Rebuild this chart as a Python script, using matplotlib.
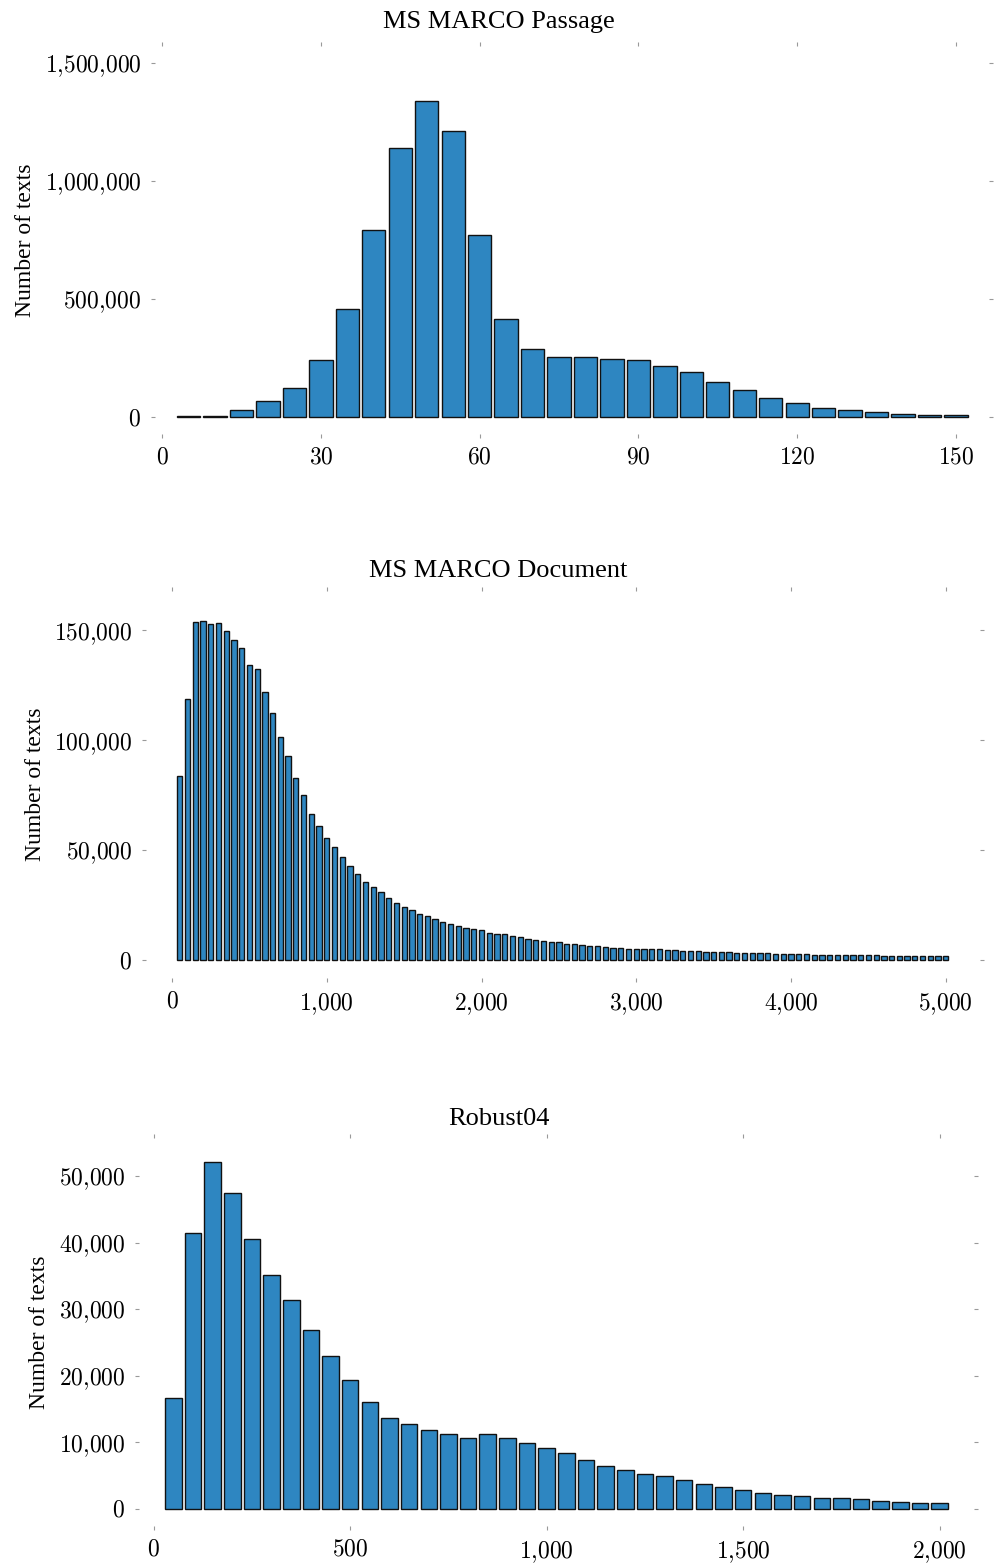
import numpy as np
import matplotlib
matplotlib.use('Agg')
from matplotlib import pyplot as plt
from matplotlib.ticker import MultipleLocator, FuncFormatter

# bin centres (text length) and counts
passage_bins = np.arange(5, 151, 5)
passage_counts = [3000, 5000, 28000, 69000, 123000, 241000, 457000, 794000, 1139000, 1340000,
                  1211000, 770000, 414000, 290000, 256000, 256000, 248000, 243000, 215000, 191000,
                  147000, 116000, 79000, 58000, 40000, 28000, 20000, 14000, 10000, 8000]

document_bins = np.arange(50, 5001, 50)
document_counts = [83700, 119000, 154000, 154400, 153000, 153600, 149700, 145900, 142100, 134500,
                   132300, 121900, 112400, 101300, 92800, 82800, 74900, 66300, 60800, 55400,
                   51600, 47000, 42700, 39100, 35600, 33400, 30800, 28400, 25800, 24200,
                   22800, 20800, 19900, 18500, 17300, 16400, 15500, 14700, 14300, 13600,
                   12500, 12000, 11700, 10900, 10300, 9600, 8900, 8500, 8300, 8000,
                   7400, 7100, 6700, 6500, 6200, 5900, 5600, 5500, 5200, 5000,
                   4900, 4850, 4800, 4550, 4400, 4250, 4100, 3950, 3800, 3600,
                   3500, 3450, 3300, 3250, 3200, 3050, 3000, 2900, 2750, 2700,
                   2600, 2600, 2500, 2450, 2400, 2350, 2300, 2250, 2200, 2100,
                   2100, 2050, 2000, 1950, 1900, 1850, 1800, 1800, 1700, 1650]

robust_bins = np.arange(50, 2001, 50)
robust_counts = [16600, 41500, 52100, 47400, 40600, 35200, 31300, 26900, 23000, 19300,
                 16000, 13600, 12700, 11900, 11200, 10700, 11200, 10700, 9900, 9200,
                 8400, 7300, 6500, 5800, 5200, 4900, 4300, 3700, 3300, 2800,
                 2400, 2100, 1900, 1700, 1600, 1450, 1200, 1000, 950, 850]

titles = ['MS MARCO Passage', 'MS MARCO Document', 'Robust04']

plt.rcParams['font.family'] = ['Liberation Serif', 'DejaVu Serif']
plt.rcParams['mathtext.fontset'] = 'cm'

W, H = 997, 1564
fig = plt.figure(figsize=(W / 100, H / 100), dpi=100)

# pixel boxes (left, right, top, bottom) of each panel
boxes = [(151, 993, 42, 438), (142, 984, 587, 982), (135, 978, 1134, 1530)]
xlims = [(-2.1, 157.0), (-194, 5247), (-47.6, 2097.5)]
ylims = [(-89000, 1590000), (-10000, 169800), (-3160, 56300)]
xsteps = [30, 1000, 500]
ysteps = [500000, 50000, 10000]
widths = [4.4, 34, 42]
title_pads = [10, 7.5, 6.5]
data = [(passage_bins, passage_counts), (document_bins, document_counts), (robust_bins, robust_counts)]


def cm_label(v, p):
    # tick numbers in computer modern, like LaTeX math
    return '$' + '{:,.0f}'.format(v).replace(',', '{,}') + '$'


for i in range(3):
    l, r, t, b = boxes[i]
    ax = fig.add_axes([l / W, 1 - b / H, (r - l) / W, (b - t) / H])
    x, y = data[i]
    ax.bar(x, y, width=widths[i], color='#2E86C1', edgecolor='#111111', linewidth=1.0)
    ax.set_xlim(xlims[i])
    ax.set_ylim(ylims[i])
    ax.xaxis.set_major_locator(MultipleLocator(xsteps[i]))
    ax.yaxis.set_major_locator(MultipleLocator(ysteps[i]))
    ax.xaxis.set_major_formatter(FuncFormatter(cm_label))
    ax.yaxis.set_major_formatter(FuncFormatter(cm_label))
    for s in ax.spines.values():
        s.set_visible(False)
    ax.tick_params(top=True, right=True, direction='in', length=3, width=0.8,
                   color='#999999', labelsize=17, pad=7)
    # titles sit at the middle of the figure, not of the axes
    ax.set_title(titles[i], fontsize=19, pad=title_pads[i], x=(498.5 - l) / (r - l))
    ax.set_ylabel('Number of texts', fontsize=17, labelpad=6)

plt.savefig('out.png', dpi=100)
